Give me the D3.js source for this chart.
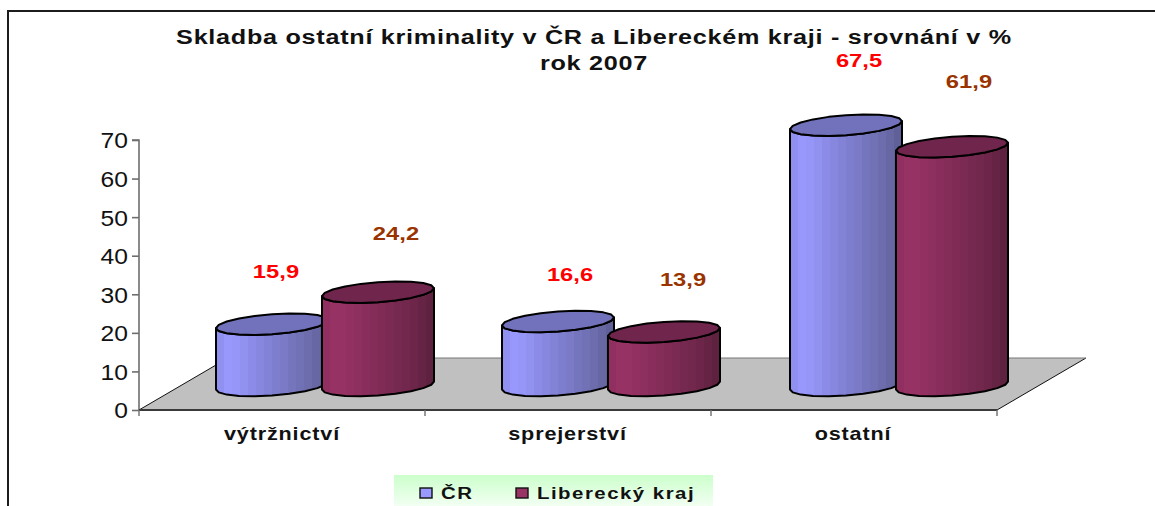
<!DOCTYPE html>
<html><head><meta charset="utf-8">
<script src="https://cdn.jsdelivr.net/npm/d3@7"></script>
<style>html,body{margin:0;padding:0;background:#fff;overflow:hidden}svg{display:block}text{font-family:"Liberation Sans",Arial,sans-serif}</style>
</head><body><svg id="c" width="1155" height="506"></svg>
<script>
const categories = ["výtržnictví", "sprejerství", "ostatní"];
const seriesNames = ["ČR", "Liberecký kraj"];
const crValues = [15.9, 16.6, 67.5];
const libereckyValues = [24.2, 13.9, 61.9];
const yTicks = [0, 10, 20, 30, 40, 50, 60, 70];
const titleLines = ["Skladba ostatní kriminality v ČR a Libereckém kraji - srovnání v %", "rok 2007"];
const series = [
  {name: seriesNames[0], values: crValues, stops: ["#8d8dec", "#9999ff", "#8080d2", "#6b6bab", "#5c5c94"], top: "#7272bc", label: "#ff0000", key: "cr"},
  {name: seriesNames[1], values: libereckyValues, stops: ["#8e2f5e", "#993366", "#822c58", "#6b2648", "#5a1f3c"], top: "#70264c", label: "#993300", key: "lk"}
];

const svg = d3.select("#c");
const defs = svg.append("defs");
const SX = 1.2;
// the reference's text is stretched horizontally: scale around its own x anchor
function stretch(sel, sx = SX) {
  sel.attr("transform", function () {
    const px = +this.getAttribute("x") || 0;
    return `translate(${px * (1 - sx)},0) scale(${sx},1)`;
  });
}
series.forEach(s => {
  const g = defs.append("linearGradient").attr("id", "g-" + s.key);
  const offs = [0, .13, .5, .85, 1];
  const n = 14, col = d3.scaleLinear().domain(offs).range(s.stops);
  d3.range(n).forEach(i => {
    g.append("stop").attr("offset", i / n).attr("stop-color", col((i + .5) / n));
    g.append("stop").attr("offset", (i + 1) / n).attr("stop-color", col((i + .5) / n));
  });
});
const lg = defs.append("linearGradient").attr("id", "legendBg").attr("x2", 0).attr("y2", 1);
lg.append("stop").attr("offset", 0).attr("stop-color", "#ccffcc");
lg.append("stop").attr("offset", 1).attr("stop-color", "#f2fff2");

// frame
svg.append("path").attr("d", "M8,506V11H1155").attr("fill", "none").attr("stroke", "#1c1c1c").attr("stroke-width", 2);

// scales
const y = d3.scaleLinear().domain([0, 70]).range([410, 140]);
const x = d3.scaleBand().domain(categories).range([139, 997]);
const depthX = 44, depthY = 26;
const floorBack = {dx: depthX * 2, dy: depthY * 2};

// floor
svg.append("path")
  .attr("d", `M${x.range()[0]},${y(0)}L${x.range()[1]},${y(0)}L${x.range()[1] + floorBack.dx + 1},${y(0) - floorBack.dy}L${x.range()[0] + floorBack.dx + 1},${y(0) - floorBack.dy}Z`)
  .attr("fill", "#c0c0c0");
svg.append("path")
  .attr("d", `M${x.range()[1]},${y(0)}L${x.range()[1] + floorBack.dx + 1},${y(0) - floorBack.dy}M${x.range()[0]},${y(0)}L${x.range()[0] + floorBack.dx + 1},${y(0) - floorBack.dy}`)
  .attr("stroke", "#111").attr("fill", "none");
svg.append("path")
  .attr("d", `M${x.range()[0] + floorBack.dx + 1},${y(0) - floorBack.dy}H${x.range()[1] + floorBack.dx + 1}`)
  .attr("stroke", "#777").attr("fill", "none");

// y axis
const yAxis = svg.append("g").attr("transform", `translate(${x.range()[0]},0)`)
  .call(d3.axisLeft(y).tickValues(yTicks).tickSize(7).tickPadding(4));
yAxis.selectAll("path,line").attr("stroke", "#6e6e6e").attr("stroke-width", 1.6);
yAxis.select("path").attr("d", `M-7,${y(70)}H0V${y(0)}`);
yAxis.selectAll("text").attr("font-size", 22).attr("fill", "#111").attr("font-family", '"Liberation Sans"').attr("dy", "0.36em").call(stretch, 1.12);

// x axis
const xAxis = svg.append("g").attr("transform", `translate(0,${y(0)})`)
  .call(d3.axisBottom(x).tickSize(0).tickPadding(17));
xAxis.select("path").attr("d", `M${x.range()[0]},0H${x.range()[1]}`).attr("stroke", "#3a3a3a").attr("stroke-width", 2);
xAxis.selectAll("text").attr("font-size", 18).attr("font-weight", "bold").attr("fill", "#111")
  .attr("font-family", '"Liberation Sans"').style("letter-spacing", "0.7px").call(stretch);
xAxis.selectAll(".tick").attr("transform", d => `translate(${x(d) + x.bandwidth() / 2 - categories.indexOf(d) * 0.5},0)`);
xAxis.selectAll(".bound").data(d3.range(categories.length + 1)).join("line").attr("class", "bound")
  .attr("x1", i => x.range()[0] + i * x.step()).attr("x2", i => x.range()[0] + i * x.step())
  .attr("y1", 0).attr("y2", 6).attr("stroke", "#6e6e6e").attr("stroke-width", 1.4);

// cylinders
const RX = 56, RY = 10, SHEAR = 4, SEG = 10;
const ell = (cx, cy, t) => [cx + RX * Math.cos(t), cy + RY * Math.sin(t) - SHEAR * Math.cos(t)];
// left -> bottom -> right
const lower = (cx, cy) => d3.range(SEG + 1).map(i => ell(cx, cy, Math.PI - i * Math.PI / SEG));
// right -> top -> left
const upper = (cx, cy) => d3.range(SEG + 1).map(i => ell(cx, cy, -i * Math.PI / SEG));
const line = d3.line();
const labelNudge = [[[2, -53], [16, -59]], [[10, -47], [17, -53]], [[11, -65], [15, -66]]];

categories.forEach((cat, ci) => {
  const mid = x(cat) + x.bandwidth() / 2 + depthX - 1 + (ci === 2 ? ci : 0);
  series.forEach((s, si) => {
    const cx = mid + (si === 0 ? -53 : 53);
    const baseY = y(0) - depthY + 1.5;
    const h = y(0) - y(s.values[ci]);
    const topY = baseY - h;
    const body = lower(cx, baseY).concat(lower(cx, topY).reverse());
    const g = svg.append("g");
    g.append("path").attr("d", line(body) + "Z").attr("fill", `url(#g-${s.key})`)
      .attr("stroke", "#000").attr("stroke-width", 2).attr("stroke-linejoin", "round");
    g.append("path").attr("d", line(lower(cx, topY).concat(upper(cx, topY).slice(1))) + "Z").attr("fill", s.top)
      .attr("stroke", "#000").attr("stroke-width", 2).attr("stroke-linejoin", "round");
    const [nx, ny] = labelNudge[ci][si];
    svg.append("text").attr("x", cx + nx + 2).attr("y", topY + ny).attr("text-anchor", "middle")
      .attr("dy", "0.36em").attr("font-size", 19).attr("font-weight", "bold").attr("fill", s.label)
      .text(s.values[ci].toFixed(1).replace(".", ",")).call(stretch, 1.25);
  });
});

// title
svg.selectAll(".title").data(titleLines).join("text").attr("class", "title")
  .attr("x", 594).attr("y", (d, i) => 44 + i * 26.5).attr("text-anchor", "middle")
  .attr("font-size", 21).attr("font-weight", "bold").attr("fill", "#111")
  .style("letter-spacing", "0.6px").text(d => d).call(stretch);

// legend
const lx = d3.scalePoint().domain(seriesNames).range([420, 516]);
svg.append("rect").attr("x", 394).attr("y", 475).attr("width", 319).attr("height", 31).attr("fill", "url(#legendBg)");
series.forEach(s => {
  svg.append("rect").attr("x", lx(s.name)).attr("y", 488).attr("width", 12).attr("height", 10)
    .attr("fill", s.stops[1]).attr("stroke", "#111").attr("stroke-width", 1.4);
  svg.append("text").attr("x", lx(s.name) + 21).attr("y", 499).attr("font-size", 17).attr("font-weight", "bold")
    .attr("fill", "#111").style("letter-spacing", "1.25px").text(s.name).call(stretch);
});
</script></body></html>
